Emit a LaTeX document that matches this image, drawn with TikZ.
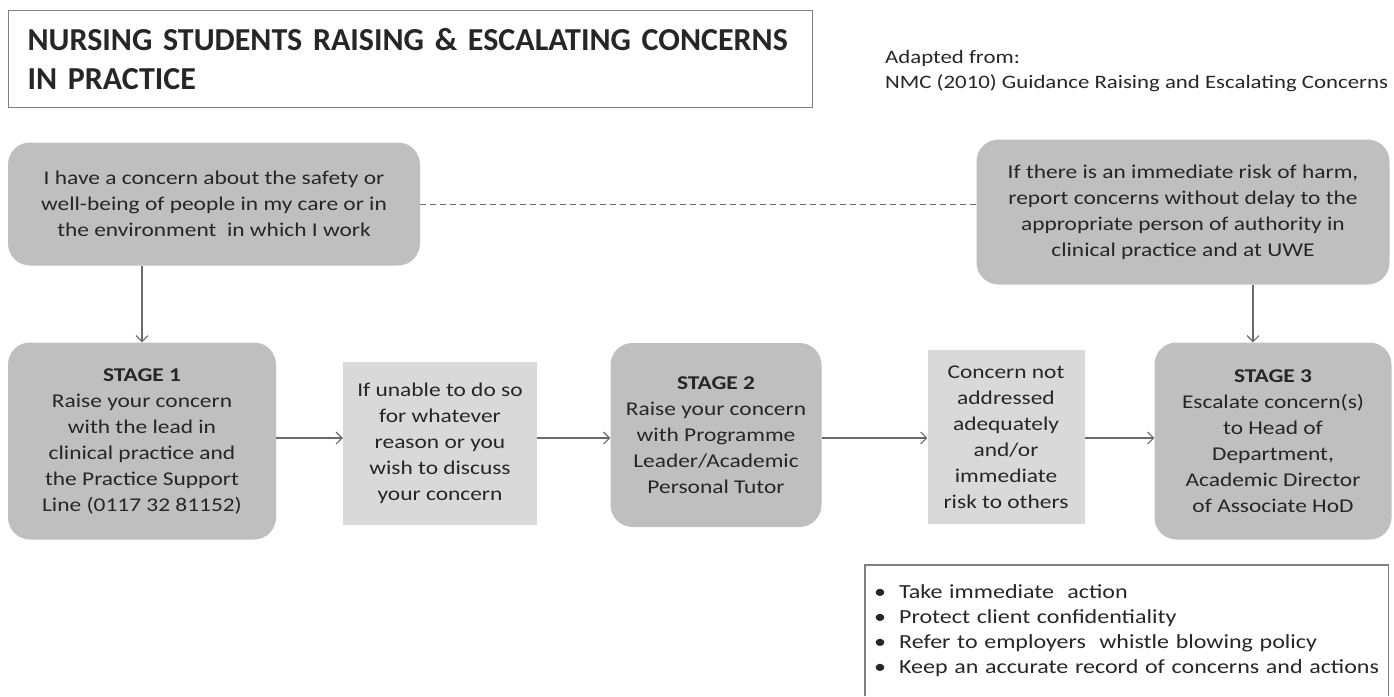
\documentclass[tikz,border=0pt]{standalone}
\usepackage{fontspec}
\setmainfont{Carlito}
\newfontfamily\wideface[FakeStretch=1.2]{Carlito}
\usetikzlibrary{calc,arrows.meta,positioning}
\definecolor{boxGray}{HTML}{BFBFBF}
\definecolor{paleGray}{HTML}{D9D9D9}
\definecolor{lineGray}{HTML}{6A6A6A}
\definecolor{inkGray}{HTML}{262626}

\begin{document}
\begin{tikzpicture}[x=1pt,y=-1pt,
    txt/.style={font=\wideface\fontsize{19.5}{26}\selectfont, text=inkGray, align=center, inner sep=0pt},
    roundbox/.style={txt, fill=boxGray, rounded corners=22pt},
    plainbox/.style={txt, fill=paleGray},
    arr/.style={draw=lineGray, line width=1.1pt, -{Straight Barb[length=6pt,width=12pt]}}]
    \useasboundingbox (0,0) rectangle (1394,696);
    \node[draw=gray, line width=1.2pt, anchor=north west, minimum height=97pt, text width=766pt,
          inner xsep=19pt, align=left, font=\fontsize{32}{39}\selectfont\bfseries, text=inkGray] (title) at (8,10)
          {NURSING STUDENTS RAISING \& ESCALATING CONCERNS\\IN PRACTICE};
    \node[txt, anchor=west, align=left, font=\wideface\fontsize{19}{25}\selectfont] (source) at (885,71)
          {Adapted from:\\NMC (2010) Guidance Raising and Escalating Concerns};
    \node[roundbox, minimum width=412pt, minimum height=123pt] (concern) at (214,204)
          {I have a concern about the safety or\\well-being of people in my care or in\\the environment\ \ in which I work};
    \node[roundbox, minimum width=413pt, minimum height=145pt] (risk) at (1183,212)
          {If there is an immediate risk of harm,\\report concerns without delay to the\\appropriate person of authority in\\clinical practice and at UWE};
    \node[roundbox, minimum width=268pt, minimum height=197pt] (stage1) at (142,441)
          {\textbf{STAGE 1}\\Raise your concern\\with the lead in\\clinical practice and\\the Practice Support\\Line (0117 32 81152)};
    \node[plainbox, minimum width=194pt, minimum height=163pt] (unable) at (440,443)
          {If unable to do so\\for whatever\\reason or you\\wish to discuss\\your concern};
    \node[roundbox, minimum width=211pt, minimum height=184pt] (stage2) at (716,435)
          {\textbf{STAGE 2}\\Raise your concern\\with Programme\\Leader/Academic\\Personal Tutor};
    \node[plainbox, minimum width=157pt, minimum height=174pt] (notaddr) at (1006,437)
          {Concern not\\addressed\\adequately\\and/or\\immediate\\risk to others};
    \node[roundbox, minimum width=237pt, minimum height=197pt] (stage3) at (1273,441)
          {\textbf{STAGE 3}\\Escalate concern(s)\\to Head of\\Department,\\Academic Director\\of Associate HoD};
    \node[txt, anchor=north west, align=left, text width=505pt, inner xsep=9pt, minimum height=131pt,
          font=\wideface\fontsize{20}{25}\selectfont] (actions) at (865,565)
          {\textbullet\hspace{13pt}Take immediate\ \ action\\
           \textbullet\hspace{13pt}Protect client confidentiality\\
           \textbullet\hspace{13pt}Refer to employers\ \ whistle blowing policy\\
           \textbullet\hspace{13pt}Keep an accurate record of concerns and actions};
    \draw[gray, line width=1.2pt] (actions.south west) |- (actions.north east) -- (actions.south east);

    \coordinate (mid) at (0,438);
    \coordinate (drop) at (1253,0);
    \draw[lineGray, line width=1pt, dash pattern=on 6pt off 4pt] (concern.east) -- (concern.east -| risk.west);
    \draw[arr] (concern.south -| stage1.north) -- (stage1.north);
    \draw[arr] (risk.south -| drop) -- (stage3.north -| drop);
    \draw[arr] (stage1.east |- mid) -- (unable.west |- mid);
    \draw[arr] (unable.east |- mid) -- (stage2.west |- mid);
    \draw[arr] (stage2.east |- mid) -- (notaddr.west |- mid);
    \draw[arr] (notaddr.east |- mid) -- (stage3.west |- mid);
\end{tikzpicture}
\end{document}
